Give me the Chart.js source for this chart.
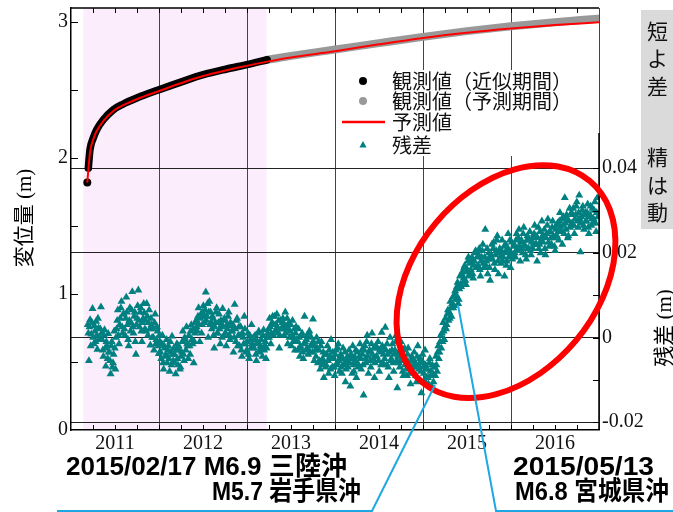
<!DOCTYPE html>
<html><head><meta charset="utf-8">
<script src="https://cdn.jsdelivr.net/npm/chart.js@4.4.0/dist/chart.umd.min.js"></script>
<style>html,body{margin:0;padding:0;background:#fff;overflow:hidden}canvas{display:block}</style>
</head><body>
<canvas id="c" width="673" height="512"></canvas>
<script>
// ---- data ----
const fitYears   = [2011.185, 2011.197, 2011.216, 2011.253, 2011.292, 2011.367, 2011.481, 2011.594, 2011.747, 2012.0, 2012.239, 2012.503, 2012.769, 2012.997, 2013.23];
const fitValues  = [1.818, 1.924, 2.06, 2.145, 2.206, 2.279, 2.353, 2.395, 2.439, 2.50, 2.554, 2.61, 2.652, 2.684, 2.72];
const forecastObsYears  = [2013.23, 2013.5, 2014.0, 2014.5, 2015.0, 2015.5, 2016.0, 2016.5, 2016.99];
const forecastObsValues = [2.72, 2.748, 2.795, 2.842, 2.888, 2.93, 2.966, 2.996, 3.022];
const predYears  = [2011.185, 2011.20, 2011.216, 2011.253, 2011.292, 2011.367, 2011.481, 2011.594, 2011.747, 2012.0, 2012.239, 2012.503, 2012.769, 2012.997, 2013.23, 2013.5, 2014.0, 2014.5, 2015.0, 2015.5, 2016.0, 2016.5, 2017.0];
const predValues = [1.818, 1.93, 2.04, 2.135, 2.196, 2.269, 2.344, 2.386, 2.43, 2.49, 2.545, 2.60, 2.643, 2.675, 2.706, 2.737, 2.782, 2.833, 2.88, 2.918, 2.949, 2.975, 2.995];
const residStartYear = 2011.19;
const residStepDays = 2.5;
// residuals in mm, one row = 30 days
const residualMM = [
 3.0,1.0,-5.5,2.5,4.2,-2.0,0.8,3.5,6.8,0.0,-1.5,2.8,
 1.5,-1.0,3.8,0.5,-2.8,4.5,2.2,-0.5,0.0,2.0,7.2,1.0,
 -0.5,-3.0,-4.5,0.5,1.8,-2.5,-6.8,-1.0,-2.0,-5.0,0.9,-3.5,
 -3.5,-5.5,-8.6,-2.0,-1.0,-7.0,-6.0,-4.0,1.5,-2.5,-7.5,0.0,
 2.0,4.0,6.5,0.5,-1.5,3.0,4.5,7.0,8.5,2.5,1.0,5.5,
 5.5,2.0,0.5,4.5,9.5,6.0,3.0,-0.5,-2.0,4.0,7.0,1.5,
 3.5,6.5,10.8,2.5,1.0,5.0,6.0,-1.0,-4.0,3.0,4.5,7.5,
 11.2,4.0,2.5,6.0,7.0,1.5,-1.0,3.5,4.5,8.0,5.8,2.0,
 4.0,1.5,8.0,5.0,0.5,3.5,6.5,2.0,-1.8,4.5,3.0,0.0,
 2.0,0.0,-3.0,3.5,5.5,-1.5,-0.5,2.5,1.5,-2.0,-3.8,0.5,
 -1.0,-3.5,-5.0,-1.5,0.5,-6.0,-7.5,-2.0,-2.5,-4.5,-4.0,-0.5,
 -6.0,-3.0,-2.0,-5.0,-8.0,-1.0,-3.5,-6.5,0.3,-4.0,-5.5,-2.5,
 -4.0,-6.0,-8.6,-3.0,-1.5,-5.0,-6.5,-2.0,-3.0,-7.5,-7.0,-4.5,
 -3.5,-1.0,1.5,-4.0,-5.5,0.0,-0.5,-3.0,2.5,-1.5,-2.0,-5.0,
 0.5,-2.0,-4.0,1.5,3.0,-0.5,-1.5,2.0,-6.0,-1.0,1.0,3.5,
 4.0,2.5,1.5,5.0,7.0,3.0,-1.0,4.5,5.5,1.0,3.0,6.0,
 7.5,5.0,3.5,6.5,10.7,4.0,5.0,8.0,0.0,6.0,8.5,3.0,
 6.0,3.5,2.0,5.0,4.5,0.5,-2.5,2.5,3.5,6.0,7.0,1.0,
 1.0,3.5,5.5,2.0,-1.5,4.0,3.0,0.0,6.8,2.5,0.5,4.5,
 4.0,1.0,-2.0,3.0,2.0,5.0,6.0,0.5,-0.5,3.5,2.8,1.5,
 1.5,3.0,-3.5,0.0,7.8,2.0,-1.0,4.0,4.5,-2.0,0.5,2.5,
 -2.0,0.5,2.5,-3.0,-4.5,1.0,0.0,-1.5,5.0,2.0,-1.5,-3.5,
 -3.0,-1.0,1.0,-4.0,-5.0,0.5,-0.5,-2.5,3.0,-1.5,-2.0,0.0,
 -2.5,-0.5,0.5,-4.0,-5.5,-1.5,-1.0,1.0,1.5,-3.0,-3.5,-2.0,
 -0.5,-2.5,-4.5,0.5,1.8,-3.0,-2.0,-1.0,-5.0,-2.5,0.0,1.0,
 2.0,0.0,4.5,2.5,-1.5,1.0,3.5,5.0,0.5,3.0,5.0,1.5,
 3.0,1.5,5.5,2.5,1.0,4.0,-2.5,0.5,4.0,2.0,2.0,3.5,
 4.5,2.0,0.5,3.0,6.0,1.0,2.5,4.5,-1.5,2.0,3.5,0.0,
 1.5,3.0,-2.0,0.5,4.0,-1.0,0.0,2.0,-3.0,1.0,2.5,-0.5,
 -1.0,-3.0,2.0,0.0,-4.5,-2.0,-2.5,0.5,1.0,-3.5,-5.0,-1.5,
 5.0,-1.0,-3.0,-0.5,0.5,-2.5,-4.0,1.0,1.5,-3.5,-2.0,0.0,
 -1.5,-3.5,4.3,-1.0,-5.5,-2.0,-3.0,-4.5,0.0,-2.5,-6.0,-1.0,
 -3.0,-5.5,-7.5,-2.0,-1.0,-6.5,-5.0,-3.5,-9.5,-6.0,-4.0,-7.0,
 -6.5,-4.0,-2.0,-5.5,-8.5,-3.0,-4.5,-7.5,-0.5,-5.0,-7.0,-3.5,
 -5.0,-7.0,-9.0,-4.0,-3.0,-6.5,-6.0,-2.5,-1.5,-5.5,-8.0,-4.5,
 -4.0,-7.0,-8.5,-5.0,-2.5,-6.5,-6.0,-3.5,-10.5,-7.5,-5.5,-4.5,
 -7.0,-5.0,-3.0,-6.0,-11.5,-4.0,-5.0,-8.5,-2.0,-6.5,-8.0,-4.5,
 -5.5,-3.0,-9.5,-6.0,-3.5,-7.0,-6.5,-4.5,-1.5,-5.0,-7.5,-3.0,
 -4.0,-6.5,-13.6,-3.0,-2.0,-5.0,-6.0,-1.0,0.5,-4.5,-8.5,-3.5,
 -3.0,-5.5,-7.0,-1.5,1.0,-4.0,-5.0,-2.5,-9.5,-6.0,-2.0,-4.5,
 -4.5,-2.5,-1.0,-5.5,-8.0,-3.0,-3.5,-6.5,1.2,-2.0,-6.0,-4.0,
 -2.5,-5.0,2.4,-3.0,-6.5,-1.5,-4.0,-7.0,-9.5,-3.5,0.0,-5.5,
 -5.0,-3.0,-1.5,-6.0,-8.0,-4.0,-3.0,-1.0,0.5,-5.5,-11.9,-4.5,
 -3.5,-6.0,-7.0,-4.0,-1.0,-5.0,-5.5,-8.0,-9.0,-3.0,-2.5,-6.5,
 -5.0,-7.5,-9.0,-4.0,-2.5,-6.0,-7.0,-8.5,-11.0,-5.5,-4.5,-7.0,
 -8.0,-5.5,-3.5,-7.0,-6.0,-9.0,-10.5,-4.5,-2.0,-6.5,-7.5,-5.0,
 -6.0,-8.0,-13.1,-5.5,-4.0,-7.0,-8.5,-10.0,-3.0,-6.5,-9.5,-7.5,
 -7.5,-9.5,-11.0,-6.0,-5.0,-8.0,-9.0,-11.5,-6.5,-8.5,-10.5,-7.0,
 -7.0,-9.0,-4.5,-6.5,-8.0,-3.5,-2.0,-5.0,-3.5,-1.0,0.5,-2.5,
 1.0,-1.0,3.5,1.5,-0.5,2.5,4.5,2.0,3.0,5.5,6.5,4.0,
 6.0,4.5,8.5,7.0,5.0,8.0,9.5,7.0,7.5,10.0,11.0,9.0,
 10.0,12.0,13.0,8.0,9.0,11.5,14.5,12.5,12.0,15.0,15.5,13.0,
 14.0,16.5,17.0,13.5,12.5,15.5,16.0,18.0,19.0,14.5,15.0,17.5,
 16.0,18.0,19.0,15.0,14.0,17.0,18.0,20.0,20.5,16.5,16.5,19.0,
 17.0,19.5,21.0,16.0,14.5,18.0,19.0,20.5,22.0,17.5,16.5,19.0,
 25.5,17.0,18.0,21.0,15.0,18.5,20.0,16.5,13.5,19.0,19.5,22.0,
 18.5,21.0,22.5,17.5,16.0,19.5,20.5,23.0,24.0,18.0,15.0,20.0,
 21.0,19.0,17.5,20.5,23.0,18.0,19.0,21.5,14.5,20.0,22.0,17.0,
 18.0,21.0,24.5,19.0,20.5,23.0,16.5,20.0,22.5,18.5,19.5,21.5,
 22.0,20.0,19.0,23.0,24.5,21.0,20.5,23.5,25.5,21.5,18.0,22.5,
 23.0,21.0,20.0,24.5,26.0,22.0,21.5,19.5,18.5,23.0,24.0,21.0,
 21.0,23.0,25.0,20.5,19.5,22.5,23.5,21.0,22.0,24.5,26.5,22.0,
 24.0,22.0,18.0,23.5,26.0,21.0,22.0,25.0,20.0,23.0,27.5,24.0,
 22.5,24.0,25.5,21.0,19.5,23.5,24.5,26.5,28.0,22.5,21.5,25.0,
 25.0,23.5,22.0,26.0,27.5,24.0,23.5,21.5,20.5,25.5,26.5,24.0,
 27.0,25.0,23.0,27.5,29.5,26.0,25.0,28.0,22.0,26.5,28.5,24.5,
 33.0,27.0,25.5,29.0,28.0,23.5,24.0,27.5,30.5,26.0,26.5,29.5,
 27.0,29.0,30.5,26.5,24.5,28.0,29.0,31.0,32.0,27.5,26.0,29.5,
 33.6,28.0,20.2,27.0,28.5,30.0,31.0,26.5,25.5,29.0,29.5,27.5,
 27.5,29.5,31.5,26.0,24.5,28.5,29.0,31.0,26.5,28.0,30.5,27.0,
 28.0,30.0,32.0,27.0,25.0,29.5,33.0,28.5
];
const xLabelYears = [2011.5, 2012.5, 2013.5, 2014.5, 2015.5, 2016.5];
const leftTicks = [0, 1, 2, 3];
const rightTicks = [-0.02, 0, 0.02, 0.04];
const fitPeriod = [2011.14, 2013.224];
const labels = { fit: '観測値（近似期間）', fobs: '観測値（予測期間）', pred: '予測値', resid: '残差' };

const fitData = fitYears.map((t, i) => ({ x: t, y: fitValues[i] }));
const fobsData = forecastObsYears.map((t, i) => ({ x: t, y: forecastObsValues[i] }));
const predData = predYears.map((t, i) => ({ x: t, y: predValues[i] }));
const residData = residualMM.map((v, i) => ({ x: residStartYear + i * residStepDays / 365.25, y: v / 1000 }));

const SERIF = "'Liberation Serif', 'DejaVu Serif'";
const JP = "'Noto Sans CJK JP', sans-serif";

function fitText(ctx, text, left, y, width) {
  const w = ctx.measureText(text).width;
  ctx.save();
  ctx.translate(left, y);
  ctx.scale(width / w, 1);
  ctx.textAlign = 'left';
  ctx.fillText(text, 0, 0);
  ctx.restore();
}

const deco = {
  id: 'deco',
  beforeDraw(chart) {
    const { ctx, chartArea: a, scales: { x } } = chart;
    const x0 = x.getPixelForValue(fitPeriod[0]), x1 = x.getPixelForValue(fitPeriod[1]);
    ctx.save();
    ctx.fillStyle = '#fcedfc';
    ctx.fillRect(x0, a.top, x1 - x0, a.bottom - a.top);
    ctx.restore();
  },
  afterDraw(chart) {
    const { ctx, chartArea: a, scales: { x, y, y2 } } = chart;
    ctx.save();
    // frame: top and partial right
    ctx.strokeStyle = '#000';
    ctx.lineWidth = 1.5;
    ctx.beginPath();
    ctx.moveTo(a.left, a.top); ctx.lineTo(a.right, a.top);
    ctx.moveTo(a.right, y2.getPixelForValue(0.0483)); ctx.lineTo(a.right, a.bottom);
    ctx.stroke();
    // inward tick marks
    ctx.lineWidth = 1;
    ctx.beginPath();
    for (let q = 1; q < 24; q++) {
      const px = Math.round(x.getPixelForValue(2011 + q * 0.25)) + 0.5;
      ctx.moveTo(px, a.bottom); ctx.lineTo(px, a.bottom - 5);
      ctx.moveTo(px, a.top); ctx.lineTo(px, a.top + 5);
    }
    for (let k = 1; k <= 6; k++) {
      const py = Math.round(y.getPixelForValue(k * 0.5)) + 0.5;
      ctx.moveTo(a.left, py); ctx.lineTo(a.left + 7, py);
    }
    for (let k = -2; k <= 4; k++) {
      const py = Math.round(y2.getPixelForValue(k / 100)) + 0.5;
      ctx.moveTo(a.right, py); ctx.lineTo(a.right - 6, py);
    }
    ctx.stroke();

    // legend
    const ds = chart.data.datasets;
    ctx.fillStyle = '#fff';
    ctx.fillRect(338, 70, 242, 86);
    const rows = [1, 2, 0, 3];
    const rowY = [81, 101, 122, 145];
    const mx = 363;
    ctx.font = '20px ' + JP;
    ctx.textBaseline = 'middle';
    ctx.textAlign = 'left';
    rows.forEach((di, r) => {
      const d = ds[di], yy = rowY[r];
      if (d.pointStyle === 'triangle') {
        ctx.fillStyle = d.backgroundColor;
        ctx.beginPath();
        ctx.moveTo(mx, yy - 4); ctx.lineTo(mx + 3.6, yy + 2.5); ctx.lineTo(mx - 3.6, yy + 2.5); ctx.closePath();
        ctx.fill();
      } else if (d.legendMarker === 'line') {
        ctx.strokeStyle = d.borderColor; ctx.lineWidth = 2.5;
        ctx.beginPath(); ctx.moveTo(342, yy); ctx.lineTo(385, yy); ctx.stroke();
      } else {
        ctx.fillStyle = d.borderColor;
        ctx.beginPath(); ctx.arc(mx, yy, 4, 0, Math.PI * 2); ctx.fill();
      }
      ctx.fillStyle = '#111';
      ctx.fillText(d.label, 392, yy);
    });

    // red ellipse highlighting the residual change
    const cx = x.getPixelForValue(2015.943), cy = y2.getPixelForValue(0.0132);
    ctx.strokeStyle = '#ff0000';
    ctx.lineWidth = 6;
    ctx.beginPath();
    ctx.ellipse(cx, cy, 131, 91.5, -50.2 * Math.PI / 180, 0, Math.PI * 2);
    ctx.stroke();

    // blue leader lines
    ctx.strokeStyle = '#1ea7e1';
    ctx.lineWidth = 2;
    ctx.beginPath();
    ctx.moveTo(x.getPixelForValue(2015.136), y2.getPixelForValue(-0.01122));
    ctx.lineTo(372, 511); ctx.lineTo(57, 511);
    ctx.moveTo(x.getPixelForValue(2015.398), y2.getPixelForValue(0.00768));
    ctx.lineTo(496, 511); ctx.lineTo(673, 511);
    ctx.stroke();

    // event annotations
    ctx.fillStyle = '#000';
    ctx.textBaseline = 'middle';
    ctx.font = "bold 26px 'Liberation Sans', " + JP;
    fitText(ctx, '2015/02/17 M6.9 三陸沖', 66, 468, 281);
    fitText(ctx, 'M5.7 岩手県沖', 212, 493, 149);
    fitText(ctx, '2015/05/13', 513, 468, 141);
    fitText(ctx, 'M6.8 宮城県沖', 515, 493, 154);

    // axis titles
    ctx.font = '21px ' + SERIF + ', ' + JP;
    ctx.textAlign = 'center';
    ctx.save(); ctx.translate(25, 218); ctx.rotate(-Math.PI / 2); ctx.fillText('変位量 (m)', 0, 0); ctx.restore();
    ctx.save(); ctx.translate(665, 328); ctx.rotate(-Math.PI / 2); ctx.fillText('残差 (m)', 0, 0); ctx.restore();

    // grey note box (cut by the image edge)
    ctx.fillStyle = '#dadada';
    ctx.fillRect(641, 10, 40, 219);
    ctx.fillStyle = '#111';
    ctx.font = '21px ' + JP;
    ctx.textAlign = 'left';
    [['短', 31], ['よ', 58], ['差', 86], ['精', 157], ['は', 185], ['動', 212]].forEach(([c, yy]) => ctx.fillText(c, 647, yy));
    ctx.restore();
  }
};

const tickFont = { family: SERIF, size: 20 };

new Chart(document.getElementById('c'), {
  type: 'scatter',
  data: {
    datasets: [
      { label: labels.pred, data: predData, showLine: true, borderColor: '#ff0000', borderWidth: 2, pointRadius: 0,
        cubicInterpolationMode: 'monotone', legendMarker: 'line', yAxisID: 'y' },
      { label: labels.fit, data: fitData, showLine: true, borderColor: '#000000', borderWidth: 7.5, borderCapStyle: 'round',
        backgroundColor: '#000000', pointBackgroundColor: '#000000', pointBorderWidth: 0,
        pointRadius: c => (c.dataIndex === 0 ? 4 : 0), cubicInterpolationMode: 'monotone',
        segment: { borderColor: c => (c.p0DataIndex === 0 ? 'rgba(0,0,0,0)' : undefined) }, yAxisID: 'y' },
      { label: labels.fobs, data: fobsData, showLine: true, borderColor: '#999999', borderWidth: 8, borderCapStyle: 'round',
        pointRadius: 0, cubicInterpolationMode: 'monotone', yAxisID: 'y' },
      { label: labels.resid, data: residData, pointStyle: 'triangle', pointRadius: 4.6, backgroundColor: '#008080',
        pointBackgroundColor: '#008080', borderWidth: 0, pointBorderWidth: 0, yAxisID: 'y2' }
    ]
  },
  options: {
    responsive: false,
    animation: false,
    devicePixelRatio: 1,
    layout: { padding: { top: 8, left: 0, right: 0, bottom: 0 } },
    plugins: { legend: { display: false }, tooltip: { enabled: false } },
    scales: {
      x: {
        type: 'linear', min: 2011, max: 2017, position: 'bottom',
        afterBuildTicks: s => { s.ticks = xLabelYears.map(v => ({ value: v })); },
        ticks: { callback: v => String(Math.floor(v)), font: tickFont, color: '#111', padding: 2, maxRotation: 0, autoSkip: false },
        grid: { offset: true, drawTicks: false, lineWidth: 1,
                color: c => (c.index === 0 || c.index >= 6 ? 'rgba(0,0,0,0)' : '#444') },
        border: { display: true, color: '#000', width: 1.5 },
        afterFit: s => { s.height = 82; s.paddingLeft = 0; s.paddingRight = 0; }
      },
      y: {
        type: 'linear', min: 0, max: 3.1, position: 'left',
        afterBuildTicks: s => { s.ticks = leftTicks.map(v => ({ value: v })); },
        ticks: { font: tickFont, color: '#111', padding: 3 },
        grid: { display: false, drawTicks: false },
        border: { display: true, color: '#000', width: 1.5 },
        afterFit: s => { s.width = 71; s.paddingTop = 0; s.paddingBottom = 0; }
      },
      y2: {
        type: 'linear', min: -0.02185, max: 0.07784, position: 'right',
        afterBuildTicks: s => { s.ticks = rightTicks.map(v => ({ value: v })); },
        ticks: { font: tickFont, color: '#111', padding: 3, callback: v => (v === 0 ? '0' : v.toFixed(2)) },
        grid: { drawTicks: false, color: '#222', lineWidth: 1 },
        border: { display: false },
        afterFit: s => { s.width = 74; s.paddingTop = 0; s.paddingBottom = 0; }
      }
    }
  },
  plugins: [deco]
});
</script>
</body></html>
